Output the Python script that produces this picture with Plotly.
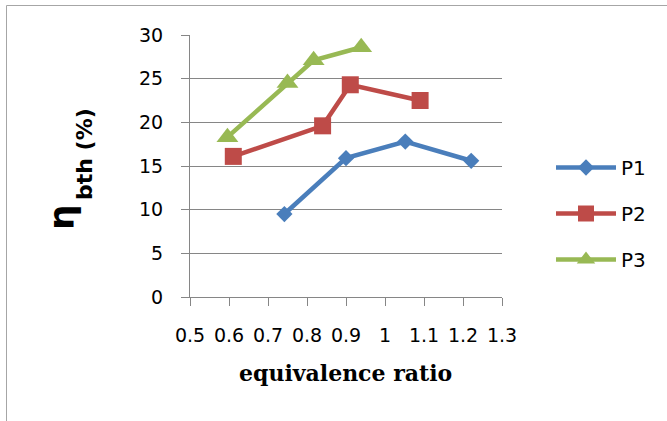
import plotly.graph_objects as go

# ---- data ----
p1_x = [0.742, 0.900, 1.052, 1.221]
p1_y = [9.5, 15.9, 17.8, 15.6]
p2_x = [0.611, 0.840, 0.911, 1.090]
p2_y = [16.1, 19.6, 24.3, 22.5]
p3_x = [0.596, 0.750, 0.817, 0.939]
p3_y = [18.3, 24.5, 27.1, 28.6]

series_names = ["P1", "P2", "P3"]
x_tickvals = [0.5, 0.6, 0.7, 0.8, 0.9, 1.0, 1.1, 1.2, 1.3]
x_ticktext = ["0.5", "0.6", "0.7", "0.8", "0.9", "1", "1.1", "1.2", "1.3"]
y_tickvals = [0, 5, 10, 15, 20, 25, 30]

# ---- layout geometry (pixels) ----
W, H = 667, 421
L, R, T, B = 190, 165, 35, 124
PW, PH = W - L - R, H - T - B


def px(xp):
    return (xp - L) / PW


def py(yp):
    return (H - B - yp) / PH


AX = "#868686"
TICKFONT = dict(family="DejaVu Sans", size=19, color="#000000")

fig = go.Figure()
styles = [
    dict(color="#4a7ebb", symbol="diamond", size=12.5),
    dict(color="#be4b48", symbol="square", size=17),
    dict(color="#98b954", symbol="triangle-up", size=19),
]
for name, xs, ys, st in zip(series_names, [p1_x, p2_x, p3_x], [p1_y, p2_y, p3_y], styles):
    fig.add_trace(go.Scatter(
        x=xs, y=ys, name=name, mode="lines+markers", legendgroup=name,
        line=dict(color=st["color"], width=4.5),
        marker=dict(color=st["color"], symbol=st["symbol"], size=st["size"], line=dict(width=0)),
        cliponaxis=False,
    ))

fig.update_layout(
    width=W, height=H,
    margin=dict(l=L, r=R, t=T, b=B, pad=0),
    paper_bgcolor="#ffffff", plot_bgcolor="#ffffff",
    showlegend=True,
    legend=dict(
        x=px(551), y=py(148), xanchor="left", yanchor="top",
        font=dict(family="DejaVu Sans", size=20, color="#000000"),
        itemwidth=60, tracegroupgap=17, bgcolor="rgba(0,0,0,0)",
        traceorder="grouped",
    ),
    xaxis=dict(
        range=[0.5, 1.3], tickmode="array", tickvals=x_tickvals, ticktext=x_ticktext,
        showgrid=False, zeroline=False, showline=True, linecolor=AX, linewidth=1,
        ticks="outside", ticklen=8, tickcolor=AX, tickwidth=1,
        tickfont=TICKFONT, ticklabelstandoff=13,
    ),
    yaxis=dict(
        range=[0, 30], tickmode="array", tickvals=y_tickvals,
        showgrid=True, gridcolor=AX, gridwidth=1, zeroline=False,
        showline=True, linecolor=AX, linewidth=1,
        ticks="outside", ticklen=8, tickcolor=AX, tickwidth=1,
        tickfont=TICKFONT, ticklabelstandoff=14,
    ),
    annotations=[
        dict(text="<b>equivalence ratio</b>", xref="paper", yref="paper",
             x=px(345.5), y=py(373), xanchor="center", yanchor="middle", showarrow=False,
             font=dict(family="DejaVu Serif", size=22, color="#000000")),
        dict(text="<b>η</b>", xref="paper", yref="paper", textangle=-90,
             x=px(62), y=py(217), xanchor="center", yanchor="middle", showarrow=False,
             font=dict(family="DejaVu Sans", size=36, color="#000000")),
        dict(text="<b>bth (%)</b>", xref="paper", yref="paper", textangle=-90,
             x=px(84), y=py(154), xanchor="center", yanchor="middle", showarrow=False,
             font=dict(family="DejaVu Sans", size=22, color="#000000")),
    ],
    shapes=[
        dict(type="line", xref="paper", yref="paper", x0=px(6.5), x1=px(700), y0=py(5.5), y1=py(5.5),
             line=dict(color="#a6a6a6", width=1)),
        dict(type="line", xref="paper", yref="paper", x0=px(6.5), x1=px(6.5), y0=py(5.5), y1=py(440),
             line=dict(color="#a6a6a6", width=1)),
    ],
)

fig.write_html("out.html")
